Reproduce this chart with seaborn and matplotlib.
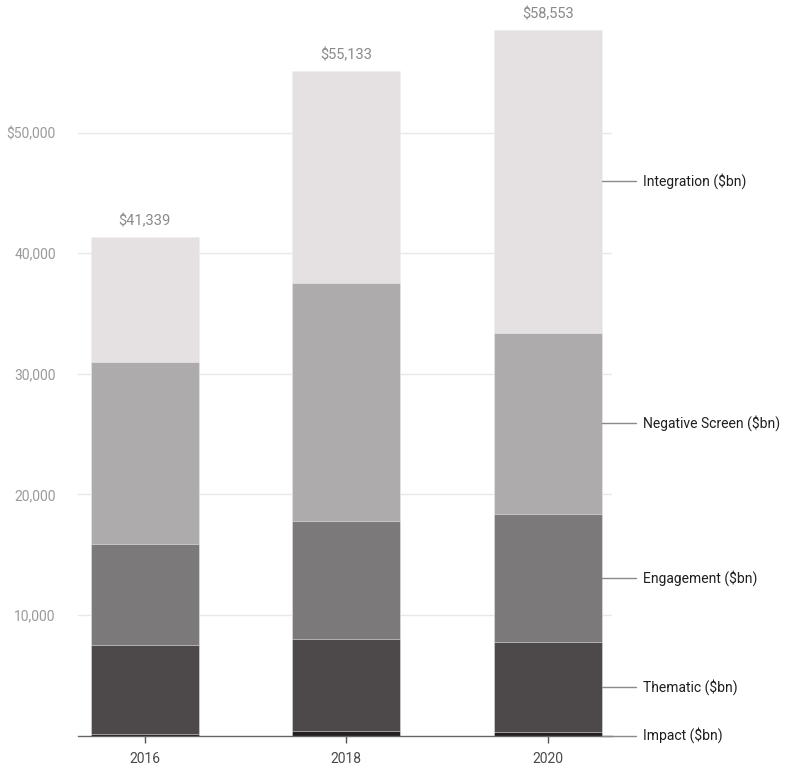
import numpy as np
import pandas as pd
import matplotlib.pyplot as plt
import seaborn as sns

# Datos (en miles de millones de dólares)
years = ["2016", "2018", "2020"]
impact = [150, 400, 300]
thematic = [7380, 7576, 7453]
engagement = [8324, 9810, 10614]
negative_screen = [15141, 19734, 15033]
integration = [10344, 17613, 25153]
totals = [41339, 55133, 58553]

series = ["Impact ($bn)", "Thematic ($bn)", "Engagement ($bn)",
          "Negative Screen ($bn)", "Integration ($bn)"]
colors = ["#231f20", "#4d494a", "#7b797a", "#adabac", "#e5e1e2"]

sns.set_theme(style="white")
plt.rcParams["font.family"] = ["Roboto", "DejaVu Sans"]

valores = np.array([impact, thematic, engagement, negative_screen, integration], dtype=float)
acumulado = valores.cumsum(axis=0)

fig = plt.figure(figsize=(7.93, 7.69), dpi=100)
ax = fig.add_axes([78 / 793, 1 - 735.5 / 769, (612 - 78) / 793, 735.5 / 769])

# Barras apiladas: dibujar los acumulados de arriba hacia abajo
for i in range(len(series) - 1, -1, -1):
    df = pd.DataFrame({"year": years, "value": acumulado[i]})
    sns.barplot(data=df, x="year", y="value", order=years, color=colors[i],
                width=0.535, edgecolor="#f0eeee", linewidth=0.4,
                saturation=1, ax=ax, zorder=2)

ax.set_xlim(-0.33, 2.317)
ax.set_ylim(0, 61000)

# Rejilla y ejes
ax.set_yticks([10000, 20000, 30000, 40000, 50000])
ax.set_yticklabels(["10,000", "20,000", "30,000", "40,000", "$50,000"])
ax.yaxis.grid(True, color="#e8e8e8", linewidth=1, zorder=0)
ax.set_axisbelow(True)
ax.tick_params(axis="y", length=0, pad=16, labelsize=10, labelcolor="#9a9a9a")
ax.tick_params(axis="x", length=5, width=1, color="#555555", pad=7,
               labelsize=10, labelcolor="#4a4a4a", direction="out")
ax.xaxis.set_ticks_position("bottom")
for s in ["top", "right", "left"]:
    ax.spines[s].set_visible(False)
ax.spines["bottom"].set_color("#666666")
ax.spines["bottom"].set_linewidth(1)
ax.set_xlabel("")
ax.set_ylabel("")

# Totales sobre cada barra
for j, t in enumerate(totals):
    ax.text(j, t + 700, f"${t:,}", ha="center", va="bottom",
            fontsize=10.5, color="#8a8a8a")

# Etiquetas de las series junto a la última barra
bajo = np.vstack([np.zeros(len(years)), acumulado[:-1]])
for i, nombre in enumerate(series):
    y = (bajo[i, -1] + acumulado[i, -1]) / 2
    if i == 0:
        y = 0
    ax.plot([2 + 0.2675, 2.436], [y, y], color="#8a8a8a", linewidth=1,
            clip_on=False, zorder=3)
    ax.text(2.471, y, nombre, ha="left", va="center", fontsize=10,
            color="#1e1e1e")

fig.savefig("out.png", dpi=100)
